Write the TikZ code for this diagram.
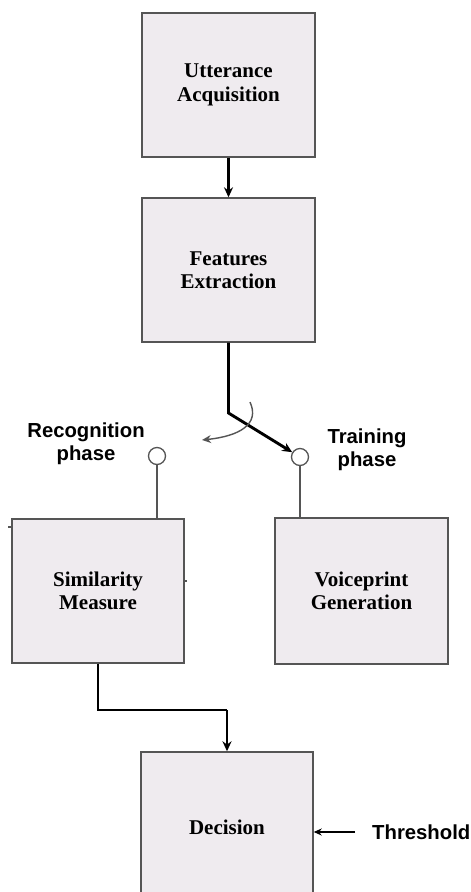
\documentclass[tikz,border=0pt]{standalone}
\usepackage{fontspec}
\setmainfont{Liberation Serif}
\newfontfamily\labfont{Liberation Sans}
\usetikzlibrary{arrows.meta}
\definecolor{boxfill}{RGB}{239,235,239}
\definecolor{boxline}{RGB}{85,85,85}
\tikzset{
  blk/.style={draw=boxline, line width=1.4pt, fill=boxfill, align=center,
    font=\fontsize{21}{23.5}\selectfont\bfseries, inner sep=0pt},
  lab/.style={align=center, font=\labfont\fontsize{20.3}{23}\selectfont\bfseries, inner sep=0pt},
  sw/.style={draw=boxline, line width=1.3pt, fill=white, circle, minimum size=17pt, inner sep=0pt},
  thin/.style={draw=boxline, line width=1.3pt},
  thickarr/.style={line width=2.9pt, -{Stealth[length=10pt,width=9pt]}},
  thickln/.style={line width=2.9pt},
}
\begin{document}
\begin{tikzpicture}[x=1pt,y=-1pt]
\clip (0,0) rectangle (471,892);
\fill[white] (0,0) rectangle (471,892);
% boxes
\node[blk, minimum width=173pt, minimum height=144pt] (ua) at (228.5,85) {Utterance\\Acquisition};
\node[blk, minimum width=173pt, minimum height=144pt] (fe) at (228.5,270) {Features\\Extraction};
\node[blk, minimum width=172pt, minimum height=144pt] (sm) at (98,591) {Similarity\\Measure};
\node[blk, minimum width=173pt, minimum height=146pt] (vg) at (361.5,591) {Voiceprint\\Generation};
\node[blk, minimum width=172pt, minimum height=150pt] (dec) at (227,827) {Decision};
% switch circles
\node[sw] (rc) at (157,456) {};
\node[sw] (tc) at (300,457) {};
% labels
\node[lab] (rl) at (86,444) {Recognition\\phase};
\node[lab] (tl) at (367,450) {Training\\phase};
\node[lab, anchor=west] (thr) at (372,832) {Threshold};
% connectors
\draw[thickarr] (ua.south) -- (fe.north);
\coordinate (bend) at (228.5,413);
\draw[thickarr] (fe.south) -- (bend) -- (tc);
\draw[thin] (rc) -- (rc |- sm.north);
\draw[thin] (tc) -- (tc |- vg.north);
\coordinate (mid) at (227,710);
\draw[thickln] (sm.south) |- (mid);
\draw[thickarr] (mid) -- (dec.north);
\draw[line width=2.2pt, -{Stealth[length=8pt,width=7pt]}] ([xshift=-17pt]thr.west) -- (dec.east |- thr.west);
% selector arc
\draw[line width=1.4pt, boxline, -{Stealth[length=9pt,width=8pt]}] (250,402) .. controls (260,424) and (240,436) .. (202,440);
% small ticks
\draw[thin] (8,527) -- (11,527);
\draw[thin] (184,581) -- (187,581);
\end{tikzpicture}
\end{document}
